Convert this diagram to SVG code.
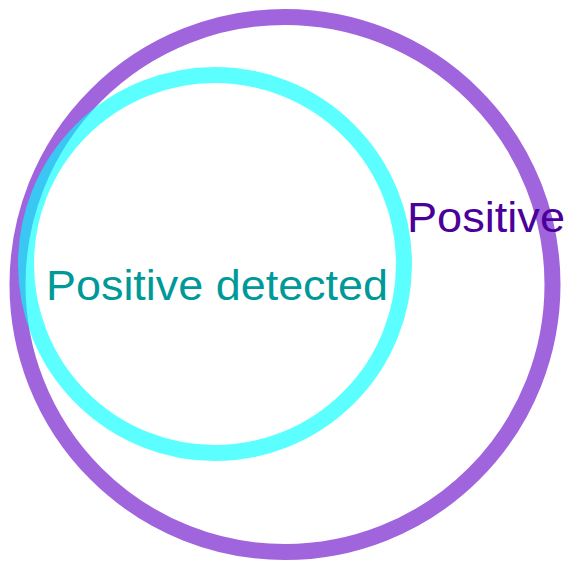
<svg xmlns="http://www.w3.org/2000/svg" width="569" height="561" viewBox="0 0 569 561">
<style>
.ring{fill:none;stroke-width:16}
.lbl{font-family:"Liberation Sans",Arial,sans-serif;font-size:42px}
</style>
<rect width="569" height="561" fill="#ffffff"/>
<g id="positive">
<circle class="ring" cx="285" cy="284.5" r="267.5" stroke="#a064dd"/>
</g>
<g id="positive-detected">
<circle class="ring" cx="215" cy="264" r="189" stroke="#00ffff" stroke-opacity="0.64"/>
</g>
<g id="labels">
<text class="lbl" x="407" y="232" fill="#4b0099" textLength="158" lengthAdjust="spacingAndGlyphs">Positive</text>
<text class="lbl" x="46" y="300" fill="#009999" textLength="342" lengthAdjust="spacingAndGlyphs">Positive detected</text>
</g>
</svg>
